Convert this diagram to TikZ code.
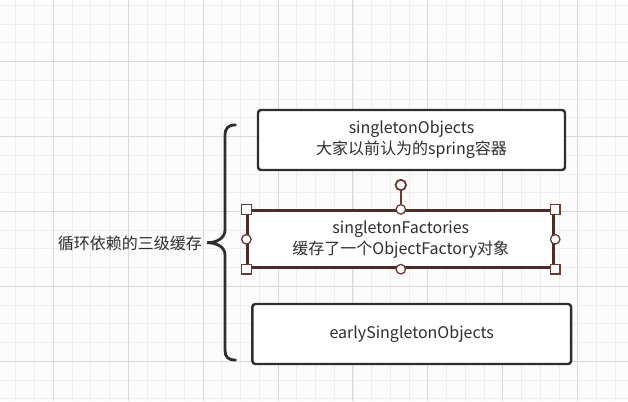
\documentclass[tikz,border=0pt]{standalone}
\usepackage{fontspec}
\setmainfont{Noto Sans CJK SC}
\usetikzlibrary{positioning}

\definecolor{textgray}{HTML}{2E2E2E}
\definecolor{selbrown}{HTML}{6B3A34}
\definecolor{boxbrown}{HTML}{4A2B27}
\definecolor{gridminor}{HTML}{EEEEEE}
\definecolor{gridmajor}{HTML}{D9D9D9}

\tikzset{
  cachebox/.style={draw=textgray, line width=2.4pt, rounded corners=3pt, fill=white,
    text=textgray, align=center, inner sep=0pt, font=\fontsize{16}{21}\selectfont},
  handlesq/.style={draw=selbrown, fill=white, line width=1.3pt, minimum size=9.5pt, inner sep=0pt},
  handlecirc/.style={circle, draw=selbrown, fill=white, line width=1.3pt, minimum size=9.5pt, inner sep=0pt},
}

\begin{document}
\begin{tikzpicture}[x=1pt, y=-1pt]
    \useasboundingbox (0,0) rectangle (628,401);
    \fill[white!98!gray] (0,0) rectangle (628,401);

    % grid
    \foreach \i in {0,...,32}
        \draw[gridminor, line width=1pt] ({15.9+18.73*\i},0) -- ({15.9+18.73*\i},401);
    \foreach \i in {0,...,21}
        \draw[gridminor, line width=1pt] (0,{5.5+18.73*\i}) -- (628,{5.5+18.73*\i});
    \foreach \i in {0,...,7}
        \draw[gridmajor, line width=1pt] ({53.3+74.9*\i},0) -- ({53.3+74.9*\i},401);
    \foreach \i in {0,...,4}
        \draw[gridmajor, line width=1pt] (0,{61.7+74.9*\i}) -- (628,{61.7+74.9*\i});

    % the three caches
    \node[cachebox, minimum width=307pt, minimum height=60pt] (objects) at (411.5,140)
        {singletonObjects\\大家以前认为的spring容器};
    \node[cachebox, draw=boxbrown, line width=2.8pt, rounded corners=0pt,
          minimum width=306pt, minimum height=57pt] (factories) at (400.8,239.3)
        {singletonFactories\\缓存了一个ObjectFactory对象};
    \node[cachebox, minimum width=318.7pt, minimum height=60pt] (early) at (411.7,334)
        {earlySingletonObjects};

    % selection handles
    \node[handlesq] (hnw) at (factories.north west) {};
    \node[handlesq] (hne) at (factories.north east) {};
    \node[handlesq] (hsw) at (factories.south west) {};
    \node[handlesq] (hse) at (factories.south east) {};
    \node[handlecirc] (hn) at (factories.north) {};
    \node[handlecirc] (hs) at (factories.south) {};
    \node[handlecirc] (hw) at (factories.west) {};
    \node[handlecirc] (he) at (factories.east) {};
    \node[handlecirc, minimum size=10.5pt, line width=1.8pt] (hrot) at (400.8,185) {};
    \draw[selbrown, line width=1.4pt] (hrot) -- (hn);

    % brace and label
    \draw[textgray, line width=2.8pt, line cap=round]
        (235.5,125) .. controls (228,125) and (225,128) .. (225,136) -- (225,230)
        .. controls (225,238) and (217,242.7) .. (207,242.7)
        .. controls (217,242.7) and (225,247) .. (225,255) -- (225,350)
        .. controls (225,357) and (228,360) .. (235.5,360);
    \node[text=textgray, font=\fontsize{16}{21}\selectfont, anchor=east, inner sep=0pt]
        (levels) at (202,243) {循环依赖的三级缓存};
\end{tikzpicture}
\end{document}
